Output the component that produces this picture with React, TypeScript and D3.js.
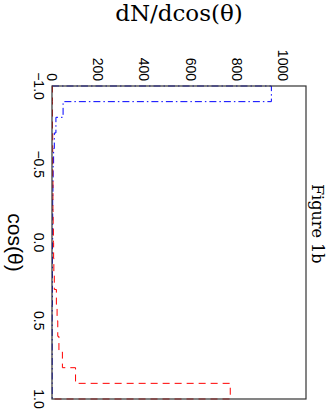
import React from 'react';
import * as d3 from 'd3';

// bin lower edges of cos(theta), width 0.1
const binEdges = [-1.0, -0.9, -0.8, -0.7, -0.6, -0.5, -0.4, -0.3, -0.2, -0.1, 0.0, 0.1, 0.2, 0.3, 0.4, 0.5, 0.6, 0.7, 0.8, 0.9];
const binWidth = 0.1;

// dash-dot blue histogram
const blueCounts = [950, 48, 17, 10, 7, 5, 4, 3, 3, 3, 2, 2, 2, 2, 1, 1, 1, 1, 1, 1];
// dashed red histogram
const redCounts = [2, 2, 2, 3, 3, 3, 4, 4, 5, 6, 7, 8, 10, 19, 22, 25, 30, 45, 102, 772];

const countTicks = [0, 200, 400, 600, 800, 1000];
const cosTicks = [-1.0, -0.5, 0.0, 0.5, 1.0];

const W = 333;
const H = 411;
const frame = { left: 52, right: 306, top: 86, bottom: 399 };

const fmtCos = (d: number) => d3.format('.1f')(d).replace('-', '\u2212');

const App = () => {
  // value axis runs horizontally, cos(theta) runs vertically
  const x = d3.scaleLinear().domain([0, 1100]).range([frame.left, frame.right]);
  const y = d3.scaleLinear().domain([-1, 1]).range([frame.top, frame.bottom]);

  const stepPoints = (counts: number[]) => {
    const pts: [number, number][] = [[-1, 0]];
    binEdges.forEach((lo, i) => {
      pts.push([lo, counts[i]]);
      pts.push([lo + binWidth, counts[i]]);
    });
    pts.push([1, 0]);
    return pts;
  };

  const line = d3.line<[number, number]>()
    .x(d => x(d[1]))
    .y(d => y(d[0]));

  return (
    <div style={{ position: 'fixed', left: 0, top: 0 }}>
      <svg width={W} height={H} style={{ display: 'block', background: '#fff' }}>
        <text x={(frame.left + frame.right) / 2} y={21} textAnchor="middle"
          fontFamily="'DejaVu Serif', serif" fontSize={23} fill="#000">
          dN/dcos(θ)
        </text>

        {countTicks.map(t => (
          <text key={t} transform={`translate(${x(t)},${frame.top - 5}) rotate(90)`}
            textAnchor="end" dy="0.35em"
            fontFamily="'Liberation Sans', Arial, sans-serif" fontSize={14} fill="#000">
            {t}
          </text>
        ))}

        {cosTicks.map(t => (
          <text key={t} transform={`translate(${frame.left - 13},${y(t)}) rotate(90)`}
            textAnchor="middle" dy="0.35em"
            fontFamily="'Liberation Sans', Arial, sans-serif" fontSize={14} fill="#000">
            {fmtCos(t)}
          </text>
        ))}

        <text transform={`translate(15,${(frame.top + frame.bottom) / 2}) rotate(90)`}
          textAnchor="middle" dy="0.35em"
          fontFamily="'Liberation Sans', Arial, sans-serif" fontSize={21} fill="#000">
          cos(θ)
        </text>

        <text transform={`translate(318,184) rotate(90)`}
          textAnchor="start" dy="0.35em"
          fontFamily="'DejaVu Serif', serif" fontSize={16} fill="#000">
          Figure 1b
        </text>

        <path d={line(stepPoints(blueCounts)) || ''} fill="none" stroke="#0000ff"
          strokeWidth={1} strokeDasharray="7,3,1.5,3" />
        <path d={line(stepPoints(redCounts)) || ''} fill="none" stroke="#ff0000"
          strokeWidth={1} strokeDasharray="7,5" />

        <rect x={frame.left} y={frame.top} width={frame.right - frame.left}
          height={frame.bottom - frame.top} fill="none" stroke="#333" strokeWidth={1.2} />
      </svg>
    </div>
  );
};

export default App;
